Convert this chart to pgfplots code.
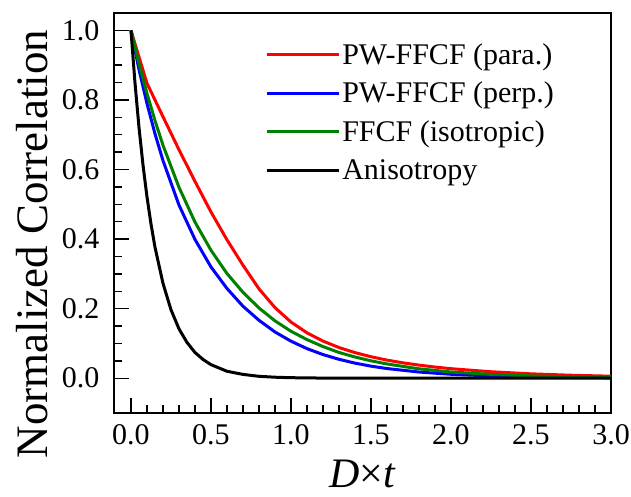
\documentclass[border=0pt]{standalone}
\usepackage{pgfplots}
\pgfplotsset{compat=1.18}
\usepackage{fontspec}
\setmainfont{Liberation Serif}

\definecolor{cRed}{RGB}{255,0,0}
\definecolor{cBlue}{RGB}{0,0,255}
\definecolor{cGreen}{RGB}{0,128,0}

\begin{document}
\begin{tikzpicture}
\path[use as bounding box] (-114pt,-83pt) rectangle (517pt,413pt);
\begin{axis}[
  at={(0pt,0pt)}, anchor=south west,
  scale only axis, width=497pt, height=400pt,
  xmin=-0.106, xmax=3.0, ymin=-0.1, ymax=1.05,
  xtick={0,0.5,...,3.0}, ytick={0,0.2,...,1.0},
  minor x tick num=4, minor y tick num=3,
  tick align=inside, major tick length=15pt, minor tick length=8pt,
  axis line style={line width=1.6pt}, every tick/.style={line width=1.4pt, black},
  xtick pos=bottom, ytick pos=left,
  /pgf/number format/assume math mode=true,
  /pgf/number format/.cd, fixed, fixed zerofill, precision=1, /pgfplots/.cd,
  tick label style={font=\fontsize{30}{32}\selectfont},
  xticklabel style={yshift=-8pt},
  yticklabel style={xshift=-11pt},
  legend style={draw=none, fill=none, inner sep=0pt, at={(rel axis cs:0.304,0.93)}, anchor=north west,
    font=\fontsize{30}{32}\selectfont, row sep=12.5pt, cells={anchor=west}},
  legend image code/.code={\draw[#1, line width=3pt] (0pt,0pt) -- (72pt,0pt);},
  every axis plot/.append style={line width=3pt, line join=round},
]
% parallel pump-probe frequency fluctuation correlation
\addplot[cRed] coordinates {
 (0,1) (0.1,0.848) (0.2,0.752) (0.3,0.657) (0.4,0.566) (0.5,0.478) (0.6,0.398)
 (0.7,0.325) (0.8,0.257) (0.9,0.203) (1.0,0.1615) (1.1,0.1305) (1.2,0.1068)
 (1.3,0.0882) (1.4,0.0736) (1.5,0.0618) (1.6,0.0521) (1.7,0.0442) (1.8,0.0377)
 (1.9,0.0321) (2.0,0.0274) (2.25,0.0186) (2.5,0.0126) (2.75,0.0086) (3.0,0.0058)
};
\addlegendentry{PW-FFCF (para.)}
% perpendicular
\addplot[cBlue] coordinates {
 (0,1) (0.05,0.888) (0.1,0.790) (0.15,0.703) (0.2,0.626) (0.3,0.498) (0.4,0.399)
 (0.5,0.320) (0.6,0.258) (0.7,0.207) (0.8,0.1666) (0.9,0.133) (1.0,0.1065)
 (1.1,0.0851) (1.2,0.068) (1.3,0.0544) (1.4,0.0434) (1.5,0.0347) (1.6,0.0278)
 (1.8,0.0178) (2.0,0.0113) (2.25,0.0065) (2.5,0.0037) (2.75,0.0021) (3.0,0.0012)
};
\addlegendentry{PW-FFCF (perp.)}
% isotropic
\addplot[cGreen] coordinates {
 (0,1) (0.05,0.905) (0.1,0.819) (0.15,0.741) (0.2,0.670) (0.3,0.549) (0.4,0.449)
 (0.5,0.368) (0.6,0.301) (0.7,0.247) (0.8,0.202) (0.9,0.165) (1.0,0.135) (1.1,0.111)
 (1.2,0.091) (1.3,0.074) (1.4,0.061) (1.5,0.050) (1.6,0.041) (1.8,0.027) (2.0,0.018)
 (2.25,0.011) (2.5,0.0067) (2.75,0.0041) (3.0,0.0025)
};
\addlegendentry{FFCF (isotropic)}
% orientational anisotropy
\addplot[black] coordinates {
 (0,1) (0.025,0.85) (0.05,0.722) (0.075,0.614) (0.1,0.522) (0.125,0.444) (0.15,0.377)
 (0.2,0.273) (0.25,0.197) (0.3,0.142) (0.35,0.103) (0.4,0.074) (0.45,0.054)
 (0.5,0.039) (0.6,0.020) (0.7,0.011) (0.8,0.0055) (0.9,0.0029) (1.0,0.0015)
 (1.2,0.0004) (1.5,0.0001) (2.0,0) (2.5,0) (3.0,0)
};
\addlegendentry{Anisotropy}
\end{axis}
% axis titles, placed relative to the plot box (lower left at the origin)
\node[rotate=90, anchor=base, font=\fontsize{45}{47}\selectfont]
  at (-66pt,169pt) {Normalized Correlation};
\node[anchor=base, font=\fontsize{42}{44}\selectfont]
  at (248.5pt,-74pt) {\textit{D}×\textit{t}};
\end{tikzpicture}
\end{document}
